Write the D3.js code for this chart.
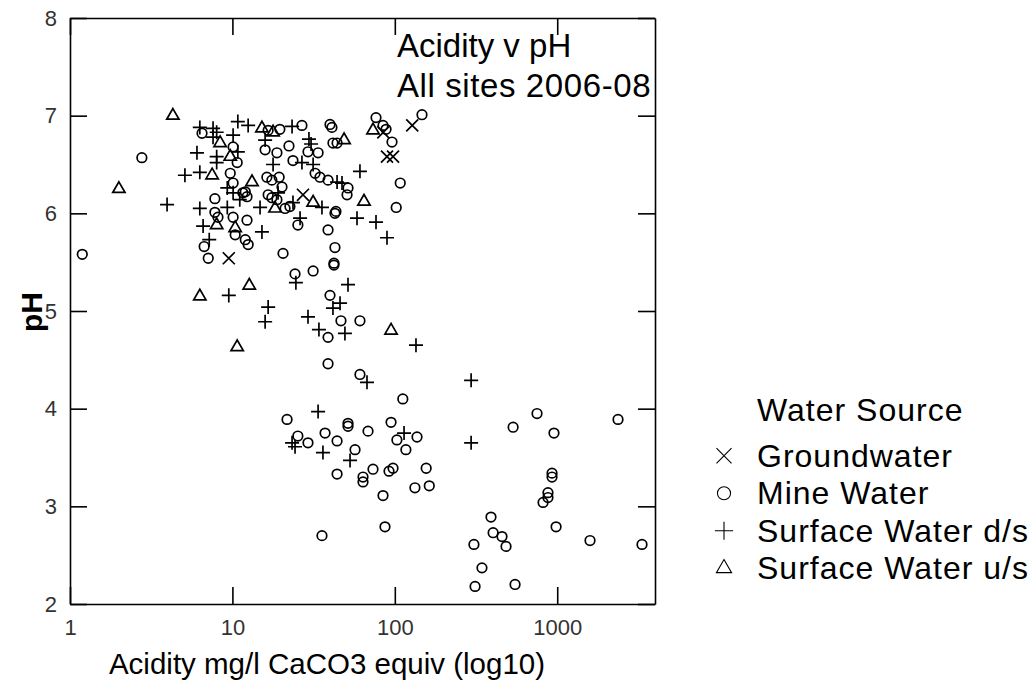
<!DOCTYPE html>
<html>
<head>
<meta charset="utf-8">
<script src="https://cdn.jsdelivr.net/npm/d3@7"></script>
<style>
  body { margin: 0; background: #fff; }
  svg { font-family: "Liberation Sans", Arial, sans-serif; }
</style>
</head>
<body>
<div id="chart"></div>
<script>
// [acidity mg/l CaCO3, pH]
const groundwater = [
  [9.5, 5.54], [27.2, 6.19], [89.5, 6.58], [97.5, 6.58], [128, 6.90], [85, 6.83]
];
const mineWater = [
  [2.77, 6.57], [1.19, 5.58], [7.1, 5.54], [6.7, 5.66], [7.8, 6.15], [6.5, 6.82],
  [10.1, 6.68], [10.7, 6.52], [9.7, 6.41], [10.1, 6.31], [16.6, 6.85], [19.6, 6.86],
  [26.8, 6.90], [39.9, 6.91], [41, 6.88], [41.6, 6.72], [44.1, 6.72], [15.9, 6.65],
  [18.8, 6.62], [22.3, 6.69], [29.2, 6.63], [33.7, 6.62], [23.6, 6.54], [32.3, 6.41],
  [34.6, 6.37], [38.8, 6.34], [50.8, 6.19], [51.5, 6.26], [19.4, 6.37], [16.3, 6.37],
  [17.5, 6.34], [20.2, 6.27], [11.6, 6.21], [12.3, 6.17], [12.0, 6.22], [16.6, 6.19],
  [17.5, 6.16], [18.8, 6.14], [7.8, 6.01], [8.15, 5.96], [10.1, 5.96], [12.3, 5.93],
  [21.1, 6.05], [22.6, 6.07], [42.8, 6.00], [43.4, 6.02], [25.3, 5.88], [38.8, 5.83],
  [42.8, 5.65], [42.2, 5.49], [42.2, 5.47], [20.5, 5.59], [31.4, 5.41], [24.3, 5.38],
  [39.9, 5.16], [46.6, 4.90], [61.0, 4.90], [38.8, 4.73], [38.8, 4.46], [61.0, 4.35],
  [10.4, 5.78], [12.0, 5.73], [12.5, 5.68], [76.6, 6.98], [84.6, 6.90], [88.3, 6.86],
  [96.1, 6.73], [147, 7.01], [108, 6.31], [102, 6.06],
  [112, 4.10], [21.7, 3.89], [25.3, 3.72], [29.2, 3.65], [37.2, 3.75], [44.1, 3.67],
  [51.5, 3.85], [51.5, 3.82], [68.4, 3.77], [94.8, 3.86], [103, 3.68], [137, 3.71],
  [117, 3.58], [56.9, 3.58], [44.1, 3.33], [73.4, 3.38], [63.7, 3.30], [63.7, 3.25],
  [92.1, 3.36], [97.5, 3.39], [156, 3.39], [133, 3.19], [163, 3.21], [84.6, 3.11],
  [87, 2.79], [35.6, 2.70], [751, 3.95], [535, 3.81], [955, 3.75], [2368, 3.89],
  [929, 3.34], [929, 3.30], [877, 3.14], [877, 3.09], [818, 3.04], [984, 2.79],
  [1592, 2.65], [3327, 2.61], [391, 2.89], [403, 2.73], [457, 2.69], [484, 2.59],
  [307, 2.61], [344, 2.37], [312, 2.18], [550, 2.20]
];
const surfaceDs = [
  [3.96, 6.09], [9.5, 5.16], [16.6, 5.04], [15.9, 4.89], [6.3, 6.88], [7.6, 6.87],
  [8.0, 6.83], [10.1, 6.80], [10.8, 6.94], [12.5, 6.90], [23.3, 6.89], [15.9, 6.75],
  [10.8, 6.63], [6.05, 6.62], [8.0, 6.58], [8.0, 6.52], [5.1, 6.39], [6.3, 6.42],
  [17.8, 6.50], [9.3, 6.26], [10.1, 6.21], [11.1, 6.14], [19.1, 6.21], [6.3, 6.05],
  [9.3, 6.06], [6.6, 5.87], [14.8, 6.06], [23.6, 6.11], [15.2, 5.81], [7.2, 5.73],
  [26.1, 5.95], [29.6, 6.76], [30.5, 6.71], [26.8, 6.52], [31.4, 6.50], [44.1, 6.32],
  [47.3, 6.31], [35.6, 6.06], [61.0, 6.43], [58.5, 5.95], [76.6, 5.91], [89.5, 5.75],
  [24.6, 5.29], [51.5, 5.27], [46.0, 5.08], [41.6, 5.03], [29.2, 4.94], [34.1, 4.81],
  [49.3, 4.77], [135, 4.65], [67.4, 4.27], [33.7, 3.97], [23.3, 3.65], [24.3, 3.61],
  [36.1, 3.55], [53.0, 3.47], [114, 3.75], [295, 4.29], [295, 3.65], [7.6, 6.78]
];
const surfaceUs = [
  [4.3, 7.00], [2.0, 6.25], [6.3, 5.15], [12.7, 5.26], [10.7, 4.63], [8.4, 6.72],
  [9.7, 6.58], [7.5, 6.39], [13.2, 6.32], [8.0, 5.88], [10.4, 5.85], [15.2, 6.87],
  [17.8, 6.83], [18.3, 6.05], [31.4, 6.11], [48.7, 6.75], [73.4, 6.85], [64.6, 6.12],
  [94.8, 4.80]
];
const xTicks = [1, 10, 100, 1000];
const yTicks = [2, 3, 4, 5, 6, 7, 8];
const seriesNames = ["Groundwater", "Mine Water", "Surface Water d/s", "Surface Water u/s"];

const width = 1035, height = 684;
const svg = d3.select("#chart").append("svg")
  .attr("width", width)
  .attr("height", height);

const x = d3.scaleLog().domain([1, 4000]).range([70, 655]);
const y = d3.scaleLinear().domain([2, 8]).range([604, 18]);

const tickLen = 17;

function styleAxis(g) {
  g.selectAll("path, line").attr("stroke", "#000").attr("stroke-width", 1.6);
  g.selectAll("text")
    .attr("fill", "#333")
    .style("font-size", "22px")
    .style("font-family", "'Liberation Sans', Arial, sans-serif");
}

svg.append("g")
  .attr("transform", `translate(0,${y(2)})`)
  .call(d3.axisBottom(x).tickValues(xTicks).tickFormat(d3.format("d"))
    .tickSizeInner(-tickLen).tickSizeOuter(0).tickPadding(15))
  .call(styleAxis);

svg.append("g")
  .attr("transform", `translate(0,${y(8)})`)
  .call(d3.axisTop(x).tickValues(xTicks).tickFormat("")
    .tickSizeInner(-tickLen).tickSizeOuter(0))
  .call(styleAxis);

svg.append("g")
  .attr("transform", `translate(${x(1)},0)`)
  .call(d3.axisLeft(y).tickValues(yTicks).tickFormat(d3.format("d"))
    .tickSizeInner(-tickLen).tickSizeOuter(0).tickPadding(13))
  .call(styleAxis);

svg.append("g")
  .attr("transform", `translate(${x(4000)},0)`)
  .call(d3.axisRight(y).tickValues(yTicks).tickFormat("")
    .tickSizeInner(-tickLen).tickSizeOuter(0))
  .call(styleAxis);

// markers
const markers = [
  { data: groundwater, type: d3.symbolTimes, size: 96, legendSize: 150 },
  { data: mineWater, type: d3.symbolCircle, size: 72, legendSize: 135 },
  { data: surfaceDs, type: d3.symbolPlus, size: 66, legendSize: 110 },
  { data: surfaceUs, type: d3.symbolTriangle2, size: 108, legendSize: 165 }
];

markers.forEach(m => {
  svg.append("g")
    .selectAll("path")
    .data(m.data)
    .enter()
    .append("path")
    .attr("transform", d => `translate(${x(d[0])},${y(d[1])})`)
    .attr("d", d3.symbol().type(m.type).size(m.size))
    .attr("fill", "none")
    .attr("stroke", "#000")
    .attr("stroke-width", 1.7);
});

// title
svg.append("text")
  .attr("x", 397).attr("y", 57)
  .style("font-size", "33px")
  .text("Acidity v pH");
svg.append("text")
  .attr("x", 397).attr("y", 97)
  .style("font-size", "33px")
  .style("letter-spacing", "0.6px")
  .text("All sites 2006-08");

// axis titles
svg.append("text")
  .attr("x", 327).attr("y", 674)
  .attr("text-anchor", "middle")
  .style("font-size", "29.5px")
  .text("Acidity mg/l CaCO3 equiv (log10)");

svg.append("text")
  .attr("transform", "translate(42,312) rotate(-90)")
  .attr("text-anchor", "middle")
  .style("font-size", "30px")
  .style("font-weight", "bold")
  .text("pH");

// legend
const legend = svg.append("g")
  .style("font-size", "32px")
  .style("letter-spacing", "1px");
legend.append("text")
  .attr("x", 757).attr("y", 421)
  .text("Water Source");

const ly = d3.scaleBand().domain(seriesNames).range([437, 587]);
seriesNames.forEach((name, i) => {
  const cy = ly(name) + ly.bandwidth() / 2;
  legend.append("path")
    .attr("transform", `translate(724,${cy})`)
    .attr("d", d3.symbol().type(markers[i].type).size(markers[i].legendSize))
    .attr("fill", "none")
    .attr("stroke", "#000")
    .attr("stroke-width", 1.1);
  legend.append("text")
    .attr("x", 757).attr("y", cy + 11)
    .text(name);
});
</script>
</body>
</html>
